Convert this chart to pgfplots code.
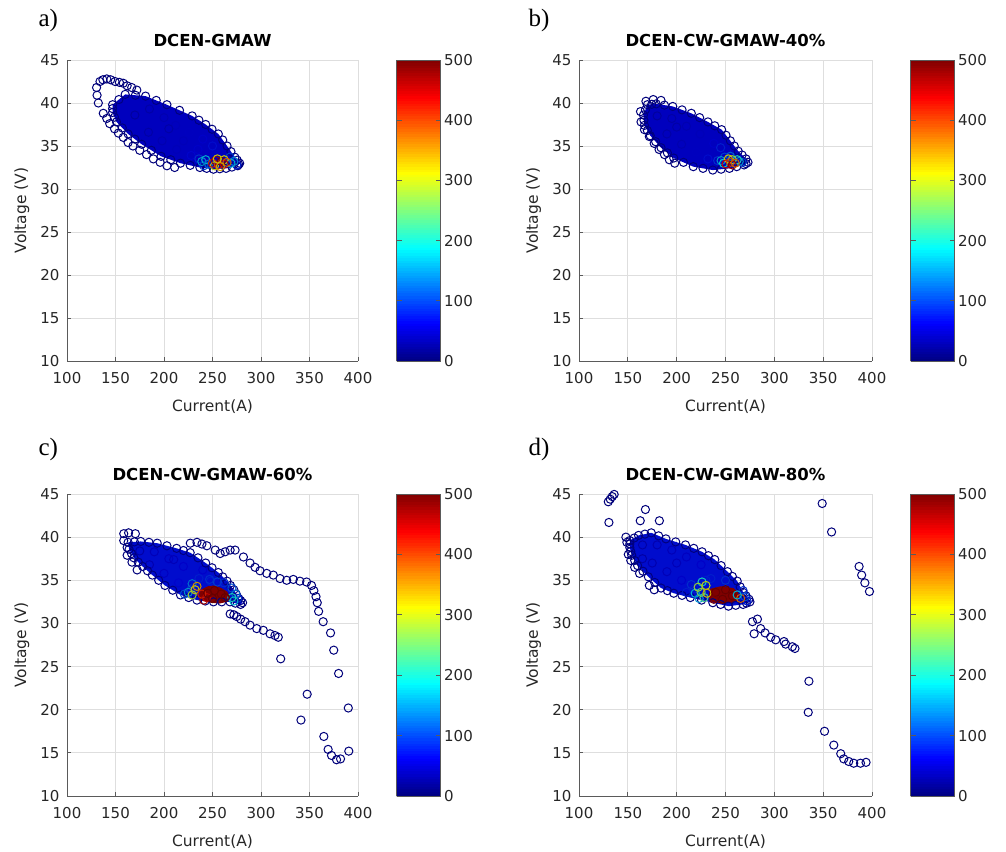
\documentclass[border=0pt]{standalone}
\usepackage{fontspec}
\setmainfont{DejaVu Sans}
\newfontfamily\tnr{Liberation Serif}
\usepackage{pgfplots}
\usepackage{pgfplotstable}
\pgfplotsset{compat=1.18}
\definecolor{lbl}{RGB}{38,38,38}
\definecolor{axln}{RGB}{90,90,90}
\definecolor{gridc}{RGB}{222,222,222}
\definecolor{cloudA}{RGB}{0,0,190}
\definecolor{cloudC}{RGB}{0,12,205}
\definecolor{blob}{RGB}{128,0,0}

\pgfplotsset{
  panel/.style={
    scale only axis, width=291pt, height=301pt,
    xmin=100, xmax=400, ymin=10, ymax=45,
    xtick={100,150,...,400}, ytick={10,15,...,45},
    grid=major, major grid style={gridc,line width=0.8pt},
    axis x line*=bottom, axis y line*=left,
    axis line style={axln,line width=0.9pt,-},
    tick align=inside, major tick length=4pt, tick style={axln,line width=0.9pt},
    /pgf/number format/assume math mode=true,
    ticklabel style={font=\fontsize{15}{18}\selectfont, text=lbl},
    xticklabel style={yshift=-8pt},
    yticklabel style={xshift=-4pt},
    xlabel={Current(A)}, ylabel={Voltage (V)},
    label style={font=\fontsize{15.5}{18}\selectfont, text=lbl},
    xlabel style={at={(axis description cs:0.5,-0.15)}, anchor=center},
    ylabel style={at={(axis description cs:-0.155,0.5)}, anchor=center},
    title style={font=\bfseries\fontsize{16.5}{19}\selectfont, at={(axis description cs:0.5,1)}, anchor=base, yshift=7pt},
    colormap/jet, point meta min=0, point meta max=500,
    colorbar sampled, colorbar shift/.style={xshift=21pt},
    colorbar style={width=44pt, xmin=0, xmax=1, enlargelimits=false,
      samples=120,
      ytick={0,100,...,500},
      ytick align=inside, major tick length=5pt,
      tick style={axln,line width=0.6pt}, axis line style={axln,line width=0.6pt},
      /pgf/number format/assume math mode=true,
      yticklabel style={font=\fontsize{15}{18}\selectfont, text=lbl}},
  },
  pts/.style={scatter, only marks, mark=o, mark size=4.1pt, line width=1.0pt, scatter src=explicit},
}

% cloud edges (x y c)
\pgfplotstableread{
x y c
147 39.8 15
153.5 40.4 15
160 41.0 15
170.5 40.9 15
181 40.8 15
192 40.3 15
203 39.8 15
216 39.15 15
229 38.5 15
236 38.0 15
243 37.5 15
249.5 36.95 15
256 36.4 15
260.5 35.7 15
265 35.0 15
269 34.35 15
273 33.7 15
275.5 33.35 15
278 33.0 15
277 32.85 15
276 32.7 15
270 32.55 15
264 32.4 15
257.5 32.35 15
251 32.3 15
244 32.4 15
237 32.5 15
227 32.75 15
217 33.0 15
207 33.4 15
197 33.8 15
187 34.5 15
177 35.2 15
170 35.8 15
163 36.4 15
157 37.1 15
151 37.8 15
149 38.35 15
147 38.9 15
147 39.35 15
}\bndA
\pgfplotstableread{
x y c
166 38.6 15
168 39.2 15
170 39.8 15
174.5 39.85 15
179 39.9 15
187.5 39.75 15
196 39.6 15
205.5 39.2 15
215 38.8 15
223.5 38.3 15
232 37.8 15
239 37.35 15
246 36.9 15
250.5 36.25 15
255 35.6 15
259 35.0 15
263 34.4 15
267 33.95 15
271 33.5 15
273 33.1 15
271 32.95 15
269 32.8 15
261.5 32.6 15
254 32.4 15
245.5 32.3 15
237 32.2 15
227 32.4 15
217 32.6 15
207 33.1 15
197 33.6 15
190.5 34.2 15
184 34.8 15
178.5 35.5 15
173 36.2 15
170 36.8 15
167 37.4 15
166.5 38.0 15
}\bndB
\pgfplotstableread{
x y c
163 39.4 15
169.5 39.45 15
176 39.5 15
184.5 39.4 15
193 39.3 15
203 39.0 15
213 38.7 15
220 38.45 15
227 38.2 15
235 37.6 15
243 37.0 15
249.5 36.45 15
256 35.9 15
260.5 35.4 15
265 34.9 15
268.5 34.4 15
272 33.9 15
274.5 33.4 15
277 32.9 15
279 32.65 15
281 32.4 15
279 32.2 15
273.5 32.35 15
268 32.5 15
259.5 32.5 15
251 32.5 15
242.5 32.6 15
234 32.7 15
225.5 33.0 15
217 33.3 15
209 33.85 15
201 34.4 15
194.5 35.0 15
188 35.6 15
183 36.1 15
178 36.6 15
173.5 37.1 15
169 37.6 15
166.5 38.1 15
164 38.6 15
}\bndC
\pgfplotstableread{
x y c
152 39.6 15
156.5 39.9 15
161 40.2 15
167.5 40.35 15
174 40.5 15
181.5 40.15 15
189 39.8 15
199 39.45 15
209 39.1 15
217.5 38.7 15
226 38.3 15
232.5 37.85 15
239 37.4 15
245.5 36.7 15
252 36.0 15
257 35.45 15
262 34.9 15
265 34.25 15
268 33.6 15
271 33.2 15
274 32.8 15
275 32.5 15
271.5 32.35 15
268 32.2 15
260.5 32.1 15
253 32.0 15
245 32.2 15
237 32.4 15
225.5 32.7 15
214 33.0 15
205.5 33.25 15
197 33.5 15
190.5 33.8 15
184 34.1 15
177.5 34.75 15
171 35.4 15
165.5 36.05 15
160 36.7 15
157 37.3 15
154 37.9 15
153 38.35 15
152 38.8 15
152 39.2 15
}\bndD

\begin{document}
\begin{tikzpicture}
\path[use as bounding box] (0,0) rectangle (1006pt,851pt);

\node[anchor=west,font=\tnr\fontsize{25}{28}\selectfont] at (35pt,831pt) {a)};
\node[anchor=west,font=\tnr\fontsize{25}{28}\selectfont] at (525pt,831pt) {b)};
\node[anchor=west,font=\tnr\fontsize{25}{28}\selectfont] at (35pt,402pt) {c)};
\node[anchor=west,font=\tnr\fontsize{25}{28}\selectfont] at (525pt,402pt) {d)};

% ---------- a) ----------
\begin{axis}[panel, at={(67pt,490pt)}, anchor=south west, title={DCEN-GMAW}]
\addplot[fill=cloudA, draw=none] table[x=x,y=y] {\bndA} -- cycle;
\addplot[pts] table[meta=c] {
x y c
170 38.6 35
185 39.3 40
200 38.3 45
212 37.4 50
226 36.6 55
240 35.8 60
250 35.0 70
184 36.6 40
198 35.6 45
213 34.6 50
228 33.9 65
205 37.0 40
220 35.6 50
235 34.6 60
};
\addplot[pts] table[meta=c] {\bndA};
\addplot[pts] table[meta=c] {
x y c
130.5 41.8 12
131 40.9 12
132.3 40.0 12
134 42.5 12
137 42.7 12
141 42.8 12
145 42.7 12
149.5 42.5 12
154 42.4 12
158 42.3 12
162 42.0 12
166.7 41.8 12
172 41.5 12
137.4 38.8 12
141 38.2 12
144 37.6 12
149 37.0 12
153 36.5 12
158 36.0 12
163 35.4 12
168 35.0 12
175 34.5 12
182 34.0 12
189 33.5 12
196 33.1 12
203 32.7 12
211 32.5 12
};
\addplot[pts] table[meta=c] {
x y c
236 33.5 90
275 32.8 80
241 32.7 100
268 33.7 100
239 33.2 150
243 33.4 170
246 32.9 130
269 33.0 170
272 33.2 140
252 32.7 300
262 33.4 310
250 33.0 420
253 33.3 470
256 32.8 400
259 33.2 490
262 32.9 450
265 33.1 380
258 32.6 340
255 33.5 320
};
\end{axis}

% ---------- b) ----------
\begin{axis}[panel, width=293pt, at={(579pt,490pt)}, anchor=south west, title={DCEN-CW-GMAW-40\%}]
\addplot[fill=cloudA, draw=none] table[x=x,y=y] {\bndB} -- cycle;
\addplot[pts] table[meta=c] {
x y c
180 38.5 35
195 38.2 40
210 37.3 45
224 36.4 50
238 35.3 60
190 36.4 40
205 35.2 45
220 34.3 55
232 33.5 70
245 34.8 80
200 37.2 40
};
\addplot[pts] table[meta=c] {\bndB};
\addplot[pts] table[meta=c] {
x y c
163 39.0 12
163.5 37.8 12
167 36.9 12
172 36.1 12
177 35.3 12
182 34.6 12
187.5 34.0 12
192.5 33.4 12
198 33.0 12
168.5 40.2 12
176 40.4 12
184 40.3 12
};
\addplot[pts] table[meta=c] {
x y c
242 33.3 90
267 33.1 100
255 33.8 120
249 33.7 100
245.5 33.3 150
248 33.0 190
264 33.2 150
262 33.4 200
257 33.4 270
253 33.5 320
250.5 32.9 440
255 33.1 400
257 32.8 480
260 33.0 380
};
\end{axis}

% ---------- c) ----------
\begin{axis}[panel, height=302pt, at={(67pt,55pt)}, anchor=south west, title={DCEN-CW-GMAW-60\%}]
\addplot[fill=cloudC, draw=none] table[x=x,y=y] {\bndC} -- cycle;
\addplot[pts] table[meta=c] {
x y c
175 38.4 40
190 38.3 50
205 37.5 55
220 36.6 60
235 35.7 70
248 34.9 80
185 36.8 45
200 35.8 55
215 34.7 65
228 34.0 90
210 37.4 50
240 36.2 60
};
\addplot[pts] table[meta=c] {\bndC};
\addplot[pts] table[meta=c] {
x y c
158.5 40.4 12
163.5 40.5 12
170.5 40.4 12
158.5 39.6 12
162 38.8 12
162 37.9 12
167 37.1 12
172.3 36.2 12
227.1 39.3 12
234 39.4 12
239.1 39.2 12
244.2 39.0 12
252.8 38.5 12
257.9 38.1 12
263 38.3 12
268.2 38.5 12
273.3 38.5 12
281.9 37.7 12
288.7 37.0 12
293.9 36.5 12
299 36.1 12
305.9 35.8 12
312.7 35.6 12
319.6 35.2 12
326.5 35.0 12
333.3 35.1 12
340.1 34.9 12
347 34.8 12
352.1 34.4 12
354.5 33.8 12
356.7 33.1 12
358 32.4 12
359.4 31.4 12
364.1 30.2 12
371.7 28.9 12
375 26.9 12
380 24.2 12
390 20.2 12
390.5 15.2 12
382 14.3 12
377.9 14.2 12
372.7 14.7 12
369.2 15.4 12
364.8 16.9 12
347.6 21.8 12
341.2 18.8 12
268.2 31.1 12
272 31.0 12
275 30.8 12
279 30.5 12
283.6 30.2 12
288.7 29.8 12
295.6 29.4 12
302.4 29.2 12
309.3 28.8 12
314.4 28.6 12
317.8 28.4 12
320.3 25.9 12
};
\addplot[pts] table[meta=c] {
x y c
255 34.8 100
247 35.1 90
236 35.2 80
262 34.7 90
276 32.9 90
270 34.1 110
274 33.4 130
272 32.6 170
270 33.0 200
225 33.6 150
221 33.4 110
229 34.6 130
};
\addplot[fill=blob, draw=none] coordinates {
(238,33.9) (245,34.3) (252,34.4) (259,34.1) (265,33.7) (268,33.1)
(265,32.5) (257,32.3) (248,32.4) (240,32.6) (236,33.2)} -- cycle;
\addplot[pts] table[meta=c] {
x y c
232 33.9 320
229 33.3 280
234 34.3 350
241 32.7 470
244 33.0 450
239 33.4 420
245 33.5 500
252 33.8 500
259 33.4 500
250 32.9 500
263 33.0 500
};
\end{axis}

% ---------- d) ----------
\begin{axis}[panel, width=293pt, height=302pt, clip=false, at={(579pt,55pt)}, anchor=south west, title={DCEN-CW-GMAW-80\%}]
\addplot[fill=cloudC, draw=none] table[x=x,y=y] {\bndD} -- cycle;
\addplot[pts] table[meta=c] {
x y c
165 39.1 40
180 39.1 45
195 38.5 50
210 37.7 55
225 36.8 60
240 35.6 70
175 37.0 45
190 36.0 50
205 35.0 60
218 34.0 80
200 37.0 50
230 35.0 80
165 37.5 40
};
\addplot[pts] table[meta=c] {\bndD};
\addplot[pts] table[meta=c] {
x y c
130 44.1 12
132 44.4 12
134 44.7 12
136 44.95 12
130.6 41.7 12
162.7 41.9 12
168 43.2 12
182.3 41.9 12
148 40.0 12
149 39.4 12
150.5 38.0 12
153 37.3 12
157 36.5 12
162 35.8 12
172 34.4 12
177 33.9 12
349 43.9 12
358.6 40.6 12
386.8 36.6 12
389.4 35.6 12
392.7 34.7 12
397.4 33.7 12
277.6 30.2 12
282.7 30.5 12
279.3 28.8 12
286 29.4 12
290.5 28.9 12
296.3 28.4 12
301.4 28.1 12
309.9 27.9 12
311.6 27.6 12
318.4 27.3 12
321.1 27.1 12
335.4 23.3 12
334.7 19.7 12
351.4 17.5 12
360.9 15.9 12
368 14.9 12
371.1 14.3 12
376.2 14.0 12
381.3 13.8 12
388.2 13.8 12
393.9 13.9 12
};
\addplot[pts] table[meta=c] {
x y c
215 34.5 90
235 35.2 80
250 35.0 90
210 33.6 80
270 33.1 110
268 33.8 90
272 32.6 80
219 33.5 170
223 32.9 150
226 34.8 200
228 33.0 230
225 33.6 250
222 34.2 280
230 34.4 300
231 33.5 330
};
\addplot[fill=blob, draw=none] coordinates {
(234,34.0) (245,34.3) (258,34.1) (263,33.6) (264,32.8)
(258,32.4) (245,32.3) (236,32.5) (233,33.2)} -- cycle;
\addplot[pts] table[meta=c] {
x y c
240 33.6 500
250 33.9 500
257 33.2 500
247 32.8 500
238 32.8 490
265.5 32.9 380
262 33.3 170
};
\end{axis}
\end{tikzpicture}
\end{document}
